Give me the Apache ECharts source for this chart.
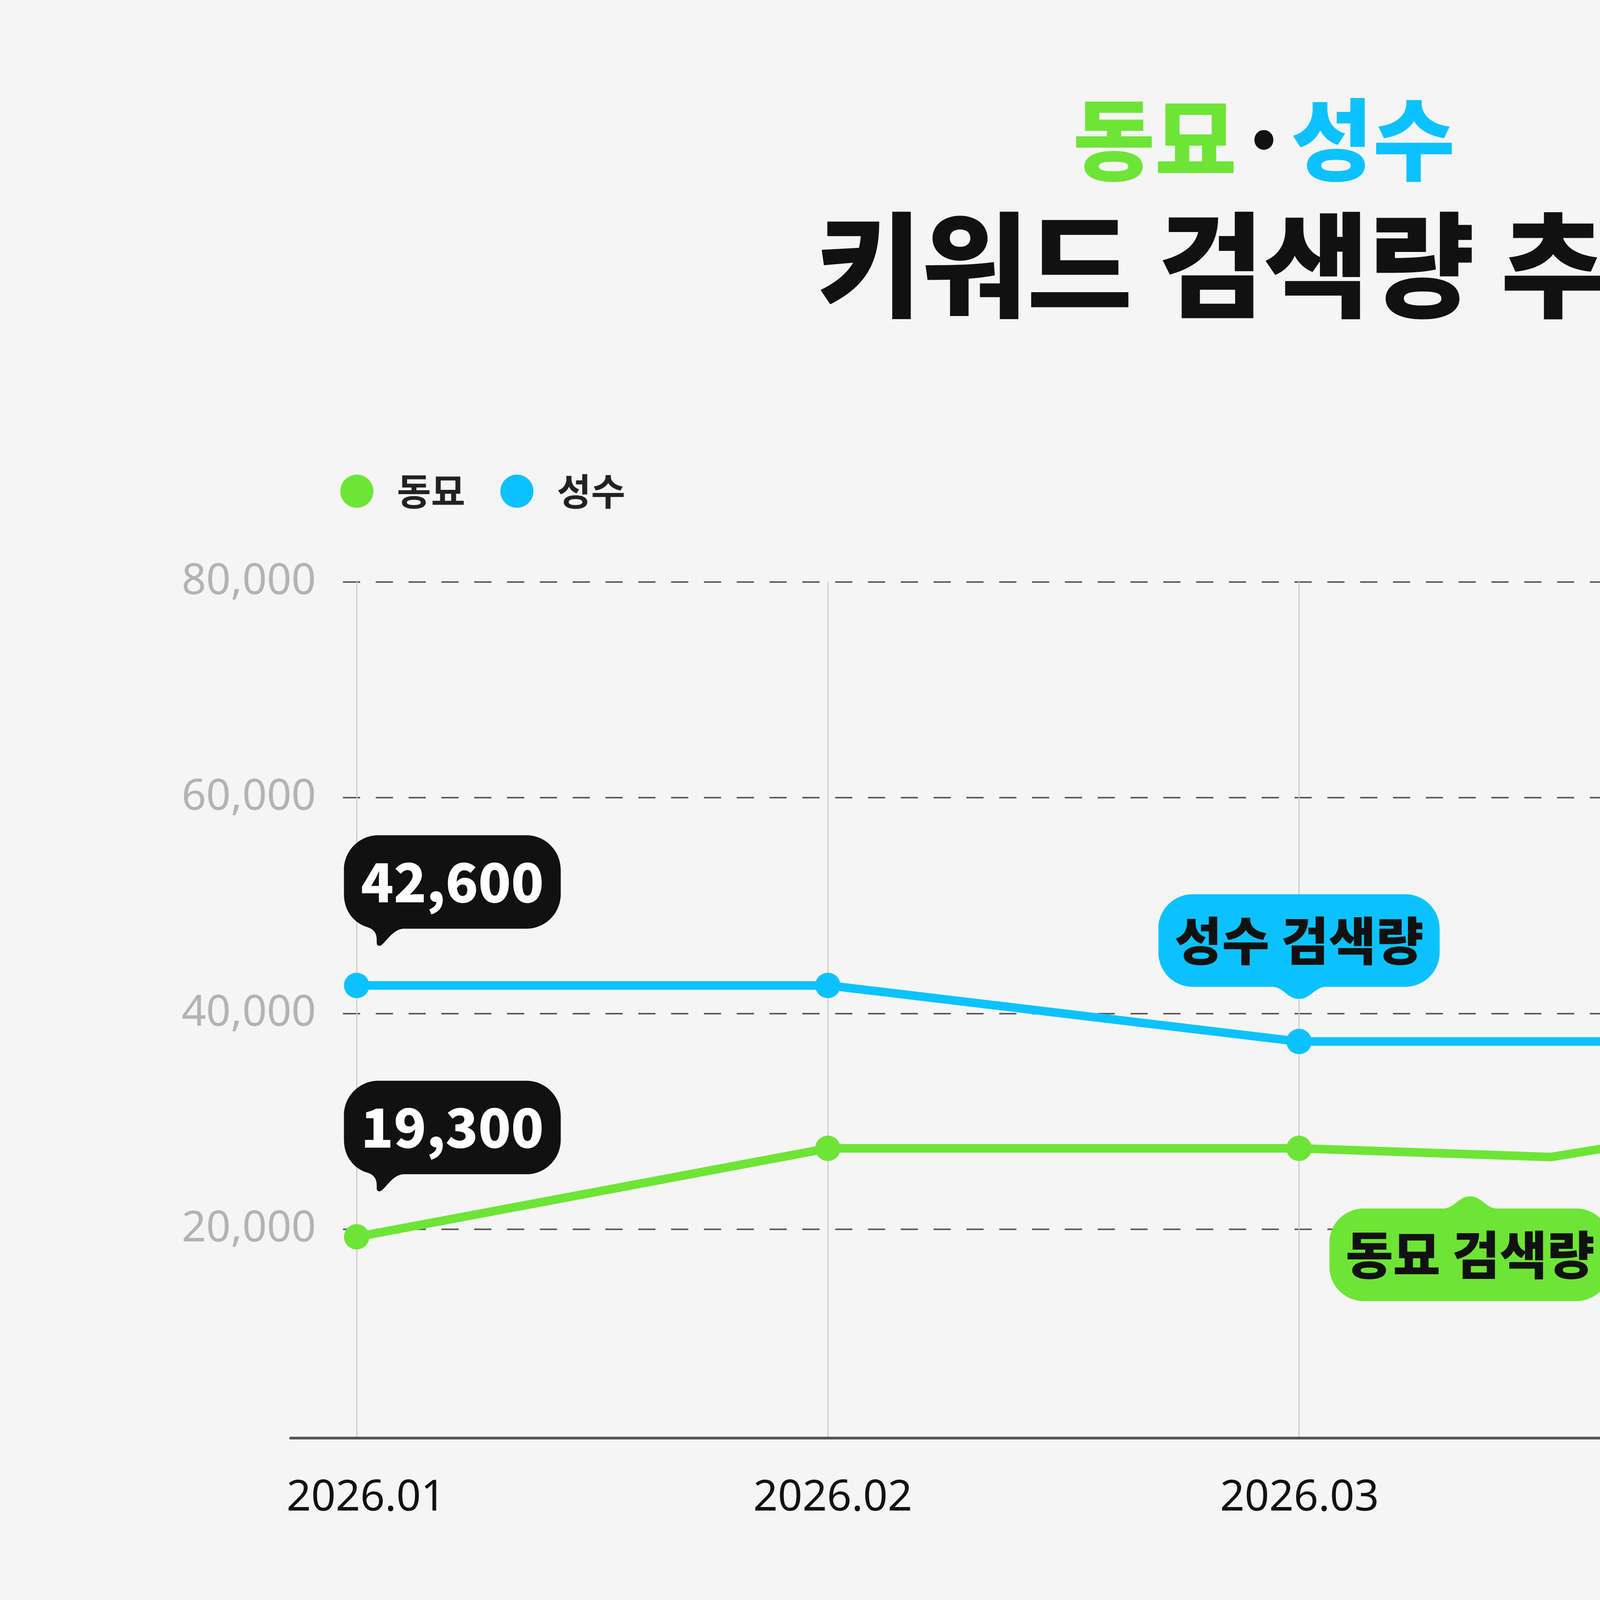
<!DOCTYPE html>
<html>
<head>
<meta charset="utf-8">
<title>동묘·성수 키워드 검색량 추이</title>
<script src="https://cdn.jsdelivr.net/npm/echarts@6/dist/echarts.min.js"></script>
<style>
  html, body { margin: 0; padding: 0; background: #f5f5f5; }
  #chart { width: 6471px; height: 5110px; }
</style>
</head>
<body>
<div id="chart"></div>
<script>
// x positions: months are 0..4, the green line has one extra bend between 03 and 04
const months = ['2026.01', '2026.02', '2026.03', '2026.04', '2026.05'];
const dongmyoX = [0, 1, 2, 2.535, 3, 4];
const dongmyoY = [19300, 27500, 27500, 26700, 30000, 67500];
const dongmyoDot = [true, true, true, false, true, true];
const seongsuX = [0, 1, 2, 3, 4];
const seongsuY = [42600, 42600, 37400, 37400, 53600];
const yTicks = [20000, 40000, 60000, 80000];

const GREEN = '#6de536';
const BLUE = '#0bc2ff';
const INK = '#111111';
const KR = '"Noto Sans CJK KR", "Noto Sans", sans-serif';

// speech bubble outline, tail: 'top' | 'bottom' | 'bottomLeft'
function bubblePath(w, h, r, tail) {
    const k = r * 0.4477;
    const c = w / 2;
    let p = `M${r} 0`;
    if (tail === 'top') {
        p += ` H${c - 70} C${c - 40} 0 ${c - 30} -31 ${c} -31 C${c + 30} -31 ${c + 40} 0 ${c + 70} 0`;
    }
    p += ` H${w - r} C${w - k} 0 ${w} ${k} ${w} ${r} V${h - r} C${w} ${h - k} ${w - k} ${h} ${w - r} ${h}`;
    if (tail === 'bottom') {
        p += ` H${c + 70} C${c + 40} ${h} ${c + 30} ${h + 31} ${c} ${h + 31} C${c - 30} ${h + 31} ${c - 40} ${h} ${c - 70} ${h}`;
    }
    if (tail === 'bottomLeft') {
        p += ` H154 C128 ${h} 112 ${h + 28} 98 ${h + 40} C92 ${h + 46} 84 ${h + 44} 84 ${h + 36}`;
        p += ` C84 ${h + 24} 86 ${h + 4} 60 ${h - 4} C25 ${h - 15} 0 ${h - 45} 0 ${h - r}`;
    } else {
        p += ` H${r} C${k} ${h} 0 ${h - k} 0 ${h - r}`;
    }
    p += ` V${r} C0 ${k} ${k} 0 ${r} 0 Z`;
    return 'path://' + p;
}

function numberBubble(name, coord, tail, offsetY, offsetX) {
    const h = 238;
    const tailH = tail === 'bottomLeft' ? 45 : 31;
    const labelShift = tail === 'top' ? tailH / 2 : -tailH / 2;
    return {
        name: name,
        coord: coord,
        symbol: bubblePath(555, h, 88, tail),
        symbolSize: [555, h + tailH],
        symbolOffset: [offsetX || 0, offsetY],
        itemStyle: { color: INK },
        label: {
            show: true, position: 'inside', formatter: '{b}', offset: [0, labelShift],
            color: '#ffffff', fontSize: 138, fontWeight: 900, fontFamily: KR
        }
    };
}

function nameBubble(name, coord, tail, offsetY, color) {
    const h = 237;
    const labelShift = tail === 'top' ? 15.5 : -15.5;
    return {
        name: name,
        coord: coord,
        symbol: bubblePath(720, h, 88, tail),
        symbolSize: [720, h + 31],
        symbolOffset: [0, offsetY],
        itemStyle: { color: color },
        label: {
            show: true, position: 'inside', formatter: '{b}', offset: [0, labelShift],
            color: INK, fontSize: 132, fontWeight: 900, fontFamily: KR
        }
    };
}

const chart = echarts.init(document.getElementById('chart'));

const option = {
    backgroundColor: '#f5f5f5',
    animation: false,
    title: [
        {
            left: 'center',
            top: 222,
            text: '{g|동묘}{d|·}{b|성수}',
            textStyle: {
                rich: {
                    g: { color: GREEN, fontSize: 228, fontWeight: 900, fontFamily: KR, lineHeight: 260 },
                    d: { color: INK, fontSize: 228, fontWeight: 900, fontFamily: KR, lineHeight: 260 },
                    b: { color: BLUE, fontSize: 228, fontWeight: 900, fontFamily: KR, lineHeight: 260 }
                }
            }
        },
        {
            left: 'center',
            top: 508,
            text: '키워드 검색량 추이',
            textStyle: { color: INK, fontSize: 293, fontWeight: 900, fontFamily: KR, lineHeight: 330 }
        }
    ],
    legend: {
        left: 866,
        top: 1205,
        icon: 'circle',
        itemWidth: 85,
        itemHeight: 85,
        itemGap: 90,
        data: ['동묘', '성수'],
        textStyle: { color: '#222222', fontSize: 95, fontWeight: 'bold', fontFamily: KR, padding: [0, 0, 0, 55] }
    },
    grid: [
        // dashed value lines + labels
        { left: 878, right: 550, top: 1489.5, bottom: 1963 },
        // data area, months 01..05
        { left: 913, right: 733, top: 1489.5, bottom: 1429 },
        // long bottom axis line and month labels
        { left: 744, right: 549, top: 1489.5, bottom: 1429 }
    ],
    xAxis: [
        { gridIndex: 0, type: 'value', min: 0, max: 1, show: false },
        {
            gridIndex: 1, type: 'value', min: 0, max: 4, interval: 1,
            axisLine: { show: false },
            axisTick: { show: false },
            axisLabel: { show: false },
            splitLine: { show: true, lineStyle: { color: '#cccccc', width: 3 } }
        },
        {
            // labels sit evenly between the two ends of the axis line
            gridIndex: 2, type: 'value', min: -0.1615, max: 4.172,
            axisLine: { show: true, lineStyle: { color: '#555555', width: 7 } },
            axisTick: { show: false },
            axisLabel: {
                customValues: [0, 1, 2, 3, 4],
                margin: 100, color: INK, fontSize: 110, fontFamily: '"Noto Sans", sans-serif',
                formatter: v => months[Math.round(v)] || ''
            },
            splitLine: { show: false }
        }
    ],
    yAxis: [
        {
            gridIndex: 0, type: 'value', min: yTicks[0], max: yTicks[yTicks.length - 1], interval: 20000,
            axisLine: { show: false },
            axisTick: { show: false },
            axisLabel: {
                margin: 69, color: '#b3b3b3', fontSize: 110, fontFamily: '"Noto Sans", sans-serif',
                formatter: v => v.toLocaleString('en-US')
            },
            splitLine: { show: true, lineStyle: { color: '#5c5c5c', width: 4, type: [44, 40] } }
        },
        // same scale as above; the bottom axis sits slightly above zero in the original
        { gridIndex: 1, type: 'value', min: 670, max: 80000, show: false },
        { gridIndex: 2, type: 'value', min: 0, max: 1, show: false }
    ],
    series: [
        {
            name: '동묘',
            type: 'line',
            xAxisIndex: 1,
            yAxisIndex: 1,
            data: dongmyoX.map((x, i) => dongmyoDot[i]
                ? { value: [x, dongmyoY[i]] }
                : { value: [x, dongmyoY[i]], symbol: 'none' }),
            symbol: 'circle',
            symbolSize: 65,
            itemStyle: { color: GREEN },
            lineStyle: { color: GREEN, width: 22 },
            z: 3,
            markPoint: {
                silent: true,
                data: [
                    numberBubble('19,300', [dongmyoX[0], dongmyoY[0]], 'bottomLeft', -258, 245),
                    numberBubble('68,000', [dongmyoX[5], dongmyoY[5]], 'bottom', -251),
                    nameBubble('동묘 검색량', [2.363, 27000], 'top', 243, GREEN),
                    {
                        name: '(추정)',
                        coord: [3.53, 77850],
                        symbol: 'circle',
                        symbolSize: 1,
                        itemStyle: { color: 'rgba(0,0,0,0)' },
                        label: {
                            show: true, position: 'inside', formatter: '{b}',
                            color: '#ffffff', fontSize: 75, fontFamily: KR
                        }
                    }
                ]
            }
        },
        {
            name: '성수',
            type: 'line',
            xAxisIndex: 1,
            yAxisIndex: 1,
            data: seongsuX.map((x, i) => [x, seongsuY[i]]),
            symbol: 'circle',
            symbolSize: 65,
            itemStyle: { color: BLUE },
            lineStyle: { color: BLUE, width: 22 },
            z: 4,
            markPoint: {
                silent: true,
                data: [
                    numberBubble('42,600', [seongsuX[0], seongsuY[0]], 'bottomLeft', -243, 245),
                    numberBubble('53,600', [seongsuX[4], seongsuY[4]], 'top', 242),
                    nameBubble('성수 검색량', [seongsuX[2], seongsuY[2]], 'bottom', -243, BLUE)
                ]
            }
        }
    ],
    graphic: [
        {
            type: 'text', x: 457, y: 4505,
            style: { text: '[자료]', fill: '#c6c6c6', fontSize: 90, fontWeight: 'bold', fontFamily: KR, verticalAlign: 'middle' }
        },
        {
            type: 'text', x: 780, y: 4505,
            style: { text: '블랙키위', fill: '#c6c6c6', fontSize: 90, fontFamily: KR, verticalAlign: 'middle' }
        },
        {
            type: 'text', x: 457, y: 4670,
            style: { text: '[기간]', fill: '#c6c6c6', fontSize: 90, fontWeight: 'bold', fontFamily: KR, verticalAlign: 'middle' }
        },
        {
            type: 'text', x: 457 + 323, y: 4670,
            style: { text: '2026.01~2026.05', fill: '#c6c6c6', fontSize: 90, fontFamily: KR, verticalAlign: 'middle' }
        },
        {
            type: 'text', x: 5770, y: 4745,
            style: {
                text: 'Careet', fill: '#000000', fontSize: 170, fontStyle: 'italic', fontWeight: 'bold',
                fontFamily: '"Liberation Serif", serif', verticalAlign: 'middle'
            }
        }
    ]
};

chart.setOption(option);

window.addEventListener('resize', () => {
    chart.resize();
});
</script>
</body>
</html>
